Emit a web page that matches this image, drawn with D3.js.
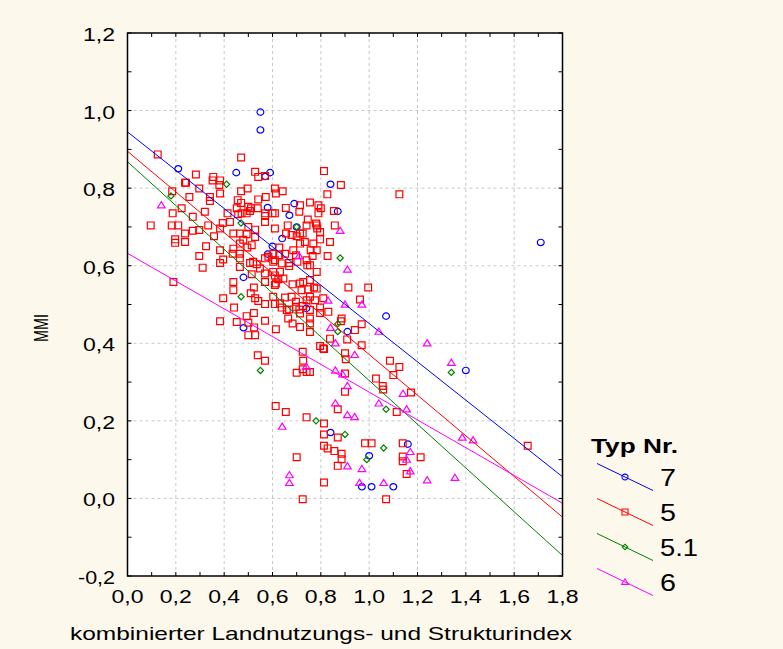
<!DOCTYPE html>
<html>
<head>
<meta charset="utf-8">
<script src="https://cdn.jsdelivr.net/npm/d3@7"></script>
<style>
  body { margin: 0; background: #fdf8ec; }
  svg { display: block; }
  text { font-family: "Liberation Sans", Arial, sans-serif; fill: #000; }
</style>
</head>
<body>
<svg id="chart" width="783" height="649"></svg>
<script>
/* data: [index, MMI] */
var typ7 = [[0.21,0.85],[0.45,0.84],[0.55,0.996],[0.55,0.95],[0.57,0.83],[0.59,0.84],[0.58,0.75],[0.67,0.73],
  [0.69,0.76],[0.84,0.81],[0.87,0.74],[0.64,0.67],[0.60,0.65],[0.70,0.70],[0.58,0.63],[0.48,0.57],[0.74,0.49],
  [0.48,0.44],[0.91,0.43],[1.71,0.66],[1.07,0.47],[1.40,0.33],[0.84,0.17],[1.00,0.11],[0.97,0.03],[1.01,0.03],
  [1.10,0.03],[1.16,0.14]]

var typ5 = [[0.125,0.887],[0.185,0.792],[0.242,0.814],[0.283,0.835],[0.297,0.799],[0.256,0.777],[0.355,0.829],
  [0.383,0.820],[0.341,0.777],[0.383,0.786],[0.414,0.735],[0.47,0.879],[0.528,0.842],[0.541,0.829],[0.497,0.799],
  [0.47,0.792],[0.456,0.769],[0.47,0.762],[0.572,0.777],[0.61,0.799],[0.614,0.786],[0.642,0.792],[0.569,0.735],
  [0.61,0.735],[0.655,0.749],[0.714,0.756],[0.755,0.763],[0.746,0.719],[0.79,0.756],[0.79,0.735],[0.187,0.735],
  [0.224,0.748],[0.27,0.726],[0.32,0.739],[0.452,0.748],[0.511,0.748],[0.493,0.735],[0.472,0.735],[0.539,0.748],
  [0.711,0.739],[0.60,0.735],
  [0.813,0.844],[0.883,0.808],[0.827,0.784],[1.125,0.784],[0.80,0.748],[0.854,0.741],
  [0.352,0.820],[0.38,0.808],[0.238,0.814],[0.341,0.767],[0.569,0.831],[0.541,0.771],[0.50,0.752],[0.507,0.741],
  [0.458,0.733],[0.394,0.71],[0.424,0.713],[0.383,0.696],[0.334,0.704],[0.183,0.704],[0.21,0.704],[0.096,0.704],
  [0.238,0.683],[0.197,0.668],[0.197,0.659],[0.238,0.661],[0.27,0.69],[0.297,0.692],[0.358,0.676],[0.325,0.65],
  [0.383,0.64],[0.438,0.644],[0.435,0.631],[0.465,0.631],[0.496,0.647],[0.528,0.674],[0.493,0.681],[0.465,0.683],
  [0.50,0.70],[0.528,0.693],[0.569,0.713],[0.569,0.728],[0.479,0.667],[0.297,0.625],[0.311,0.595],[0.383,0.607],
  [0.465,0.619],[0.507,0.607],[0.535,0.604],[0.569,0.619],
  [0.19,0.558],[0.396,0.516],[0.383,0.457],[0.438,0.558],[0.438,0.537],[0.441,0.492],[0.452,0.455],[0.493,0.47],
  [0.50,0.453],[0.50,0.421],[0.528,0.421],[0.523,0.478],[0.523,0.544],[0.51,0.529],[0.528,0.516],[0.569,0.501],
  [0.569,0.458],[0.614,0.436],[0.603,0.52],[0.614,0.554],[0.652,0.518],[0.638,0.492],[0.665,0.464],[0.683,0.552],
  [0.727,0.558],[0.755,0.563],[0.783,0.541],[0.755,0.52],[0.725,0.496],[0.755,0.486],[0.755,0.464],[0.714,0.442],
  [0.755,0.429],[0.797,0.393],[0.81,0.387],[0.838,0.412],[0.831,0.481],[0.886,0.464],[0.90,0.374],[0.903,0.359],
  [0.90,0.275],[0.70,0.324],[0.727,0.355],
  [0.396,0.616],[0.465,0.597],[0.52,0.61],[0.603,0.584],[0.631,0.584],[0.645,0.567],[0.569,0.58],[0.569,0.558],
  [0.714,0.554],[0.72,0.537],[0.748,0.539],[0.741,0.511],[0.714,0.477],[0.659,0.486],[0.631,0.503],[0.755,0.601],
  [0.783,0.584],[0.741,0.614],[0.783,0.64],[0.758,0.64],[0.828,0.625],[0.838,0.661],[0.797,0.668],[0.769,0.657],
  [0.797,0.687],[0.714,0.683],[0.714,0.657],[0.686,0.64],[0.679,0.679],[0.663,0.704],[0.741,0.704],[0.783,0.704],
  [0.858,0.704],[0.914,0.544],[0.962,0.513],
  [0.438,0.683],[0.465,0.657],[0.514,0.653],[0.548,0.593],[0.583,0.623],[0.603,0.61],[0.638,0.606],[0.603,0.631],
  [0.652,0.631],
  [0.78,0.709],[0.785,0.696],[0.61,0.696],[0.656,0.683],[0.70,0.676],[0.725,0.683],[0.734,0.661],[0.628,0.647],
  [0.628,0.627],[0.697,0.627],[0.766,0.625],[0.61,0.614],[0.669,0.607],[0.703,0.61],[0.744,0.601],[0.669,0.599],
  [0.61,0.575],[0.624,0.565],[0.61,0.55],[0.772,0.544],[0.776,0.511],[0.81,0.516],[0.996,0.544],[0.61,0.501],
  [0.679,0.52],[0.697,0.507],[0.697,0.494],[0.669,0.487],[0.711,0.487],[0.797,0.492],[0.797,0.478],[0.683,0.451],
  [0.755,0.451],[0.941,0.434],[0.969,0.449],[0.969,0.395],[0.909,0.41],[0.725,0.378],[0.725,0.333],[0.741,0.326],
  [0.755,0.326],[0.90,0.322],[1.056,0.29],[1.058,0.281],[1.028,0.309],[1.10,0.318],[1.086,0.355],[1.125,0.339],
  [0.883,0.457],[0.813,0.385],[1.173,0.273],
  [0.541,0.509],[0.524,0.441],[0.539,0.369],[0.569,0.355],[0.514,0.578],
  [0.613,0.238],[0.655,0.223],[0.741,0.209],[0.87,0.23],[0.813,0.193],[0.813,0.165],[0.87,0.157],[0.813,0.136],
  [0.828,0.129],[0.856,0.122],[0.886,0.115],[0.886,0.101],[0.87,0.084],[0.70,0.106],[0.813,0.041],[0.725,-0.002],
  [1.114,0.223],[0.983,0.142],[1.01,0.142],[1.139,0.142],[1.139,0.108],[1.139,0.096],[1.213,0.106],[1.155,0.063],
  [1.07,-0.002],[1.656,0.136]]

var typ51 = [[0.18,0.78],[0.41,0.81],[0.47,0.71],[0.70,0.70],[0.88,0.62],[0.47,0.52],[0.87,0.45],[0.87,0.43],
  [0.55,0.33],[1.34,0.325],[0.78,0.20],[0.90,0.165],[1.07,0.23],[1.06,0.13],[0.99,0.10]]

var typ6 = [[0.14,0.756],[0.88,0.69],[0.71,0.625],[0.91,0.59],[0.83,0.51],[0.90,0.50],[0.97,0.50],[0.84,0.44],
  [1.04,0.43],[0.86,0.40],[1.24,0.40],[0.94,0.37],[0.74,0.34],[0.86,0.33],[0.89,0.32],[0.91,0.29],[1.14,0.27],
  [1.34,0.35],[0.86,0.245],[0.91,0.215],[0.94,0.21],[0.64,0.185],[0.67,0.06],[0.67,0.04],[0.91,0.083],[0.96,0.04],
  [0.97,0.076],[1.04,0.245],[1.155,0.23],[1.17,0.12],[1.155,0.10],[1.17,0.07],[1.06,0.04],[1.24,0.047],
  [1.355,0.053],[1.385,0.157],[1.43,0.15]]

// linear fits per type (value at x = 0 and slope)
var typNames = ["7", "5", "5.1", "6"]
var fitIntercepts = [0.945, 0.895, 0.868, 0.632]
var fitSlopes = [-0.494, -0.524, -0.564, -0.358]

var xDomain = [0, 1.8]
var yDomain = [-0.2, 1.2]

/* styles */
var colors = ["#0000ff", "#ff0000", "#008000", "#ff00ff"]
var shapes = ["circle", "square", "diamond", "triangle"]
var groups = [typ7, typ5, typ51, typ6]

var svg = d3.select("#chart")
var plot = { left: 127.5, right: 562.5, top: 33, bottom: 576 }

var x = d3.scaleLinear().domain(xDomain).range([plot.left, plot.right])
var y = d3.scaleLinear().domain(yDomain).range([plot.bottom, plot.top])

svg.append("rect").attr("width", 783).attr("height", 649).attr("fill", "#fdf8ec")
svg.append("rect")
  .attr("x", plot.left).attr("y", plot.top)
  .attr("width", plot.right - plot.left).attr("height", plot.bottom - plot.top)
  .attr("fill", "#fff")

// dashed grid at the labelled ticks
var xMajor = x.ticks(9), yMajor = y.ticks(7)
svg.append("g").selectAll("line")
  .data(xMajor.filter(d => d > 0.01 && d < 1.79))
  .enter().append("line")
  .attr("x1", d => x(d)).attr("x2", d => x(d))
  .attr("y1", plot.top).attr("y2", plot.bottom)
  .attr("stroke", "#c8c8c8").attr("stroke-dasharray", "3,3")
svg.append("g").selectAll("line")
  .data(yMajor.filter(d => d > -0.19 && d < 1.19))
  .enter().append("line")
  .attr("y1", d => y(d)).attr("y2", d => y(d))
  .attr("x1", plot.left).attr("x2", plot.right)
  .attr("stroke", "#c8c8c8").attr("stroke-dasharray", "3,3")

function shapePath(kind) {
  if (kind == "square") return "M-3.4,-3.4H3.4V3.4H-3.4Z"
  if (kind == "diamond") return "M0,-3.1L3.1,0L0,3.1L-3.1,0Z"
  if (kind == "triangle") return "M0,-3.6L3.8,2.6H-3.8Z"
  return "M-3.4,0A3.4,3.2 0 1,0 3.4,0A3.4,3.2 0 1,0 -3.4,0Z"
}

// points
groups.forEach((pts, i) => {
  svg.append("g").selectAll("path")
    .data(pts)
    .enter().append("path")
    .attr("d", shapePath(shapes[i]))
    .attr("transform", d => `translate(${x(d[0])},${y(d[1])})`)
    .attr("fill", "none")
    .attr("stroke", colors[i])
    .attr("stroke-width", 1.2)
})

// fitted lines
svg.append("clipPath").attr("id", "plotClip")
  .append("rect").attr("x", plot.left).attr("y", plot.top)
  .attr("width", plot.right - plot.left).attr("height", plot.bottom - plot.top)
var line = d3.line().x(d => x(d[0])).y(d => y(d[1]))
typNames.forEach((name, i) => {
  var ends = xDomain.map(v => [v, fitIntercepts[i] + fitSlopes[i] * v])
  svg.append("path")
    .attr("d", line(ends))
    .attr("clip-path", "url(#plotClip)")
    .attr("fill", "none")
    .attr("stroke", colors[i])
    .attr("stroke-width", 1)
})

// frame and inside ticks
svg.append("rect")
  .attr("x", plot.left).attr("y", plot.top)
  .attr("width", plot.right - plot.left).attr("height", plot.bottom - plot.top)
  .attr("fill", "none").attr("stroke", "#000").attr("stroke-width", 1.5)

var tickLen = 4
var ticksG = svg.append("g").attr("stroke", "#000").attr("stroke-width", 1)
x.ticks(18).forEach(v => {
  ticksG.append("line").attr("x1", x(v)).attr("x2", x(v)).attr("y1", plot.top).attr("y2", plot.top + tickLen)
  ticksG.append("line").attr("x1", x(v)).attr("x2", x(v)).attr("y1", plot.bottom).attr("y2", plot.bottom - tickLen)
})
y.ticks(14).forEach(v => {
  ticksG.append("line").attr("y1", y(v)).attr("y2", y(v)).attr("x1", plot.left).attr("x2", plot.left + tickLen)
  ticksG.append("line").attr("y1", y(v)).attr("y2", y(v)).attr("x1", plot.right).attr("x2", plot.right - tickLen)
})

// German decimal comma, plain hyphen for minus
var fmt = d => d3.format(".1f")(d).replace("\u2212", "-").replace(".", ",")

svg.append("g").selectAll("text")
  .data(xMajor)
  .enter().append("text")
  .attr("x", d => x(d)).attr("y", 603)
  .attr("text-anchor", "middle")
  .attr("font-size", 18)
  .attr("textLength", 32).attr("lengthAdjust", "spacingAndGlyphs")
  .text(fmt)

svg.append("g").selectAll("text")
  .data(yMajor)
  .enter().append("text")
  .attr("x", 115).attr("y", d => y(d) + 8)
  .attr("text-anchor", "end")
  .attr("font-size", 18)
  .attr("textLength", d => d < 0 ? 37 : 32).attr("lengthAdjust", "spacingAndGlyphs")
  .text(fmt)

svg.append("text")
  .attr("x", 70).attr("y", 640)
  .attr("font-size", 19)
  .attr("textLength", 502).attr("lengthAdjust", "spacingAndGlyphs")
  .text("kombinierter Landnutzungs- und Strukturindex")

svg.append("text")
  .attr("transform", "translate(48,328) rotate(-90)")
  .attr("text-anchor", "middle")
  .attr("font-size", 21)
  .attr("textLength", 28).attr("lengthAdjust", "spacingAndGlyphs")
  .text("MMI")

// legend
var legend = svg.append("g")
legend.append("text")
  .attr("x", 591).attr("y", 453)
  .attr("font-size", 20).attr("font-weight", "bold")
  .attr("textLength", 87).attr("lengthAdjust", "spacingAndGlyphs")
  .text("Typ Nr.")

typNames.forEach((name, i) => {
  var cy = 477 + i * 35
  legend.append("line")
    .attr("x1", 597).attr("y1", cy - 13.5).attr("x2", 653).attr("y2", cy + 13.5)
    .attr("stroke", colors[i]).attr("stroke-width", 1)
  legend.append("path")
    .attr("d", shapePath(shapes[i]))
    .attr("transform", `translate(625,${cy}) scale(0.9)`)
    .attr("fill", "none").attr("stroke", colors[i]).attr("stroke-width", 1.2)
  legend.append("text")
    .attr("x", 660).attr("y", cy + 9)
    .attr("font-size", 24)
    .attr("textLength", name.length > 1 ? 38 : 16).attr("lengthAdjust", "spacingAndGlyphs")
    .text(name)
})
</script>
</body>
</html>
